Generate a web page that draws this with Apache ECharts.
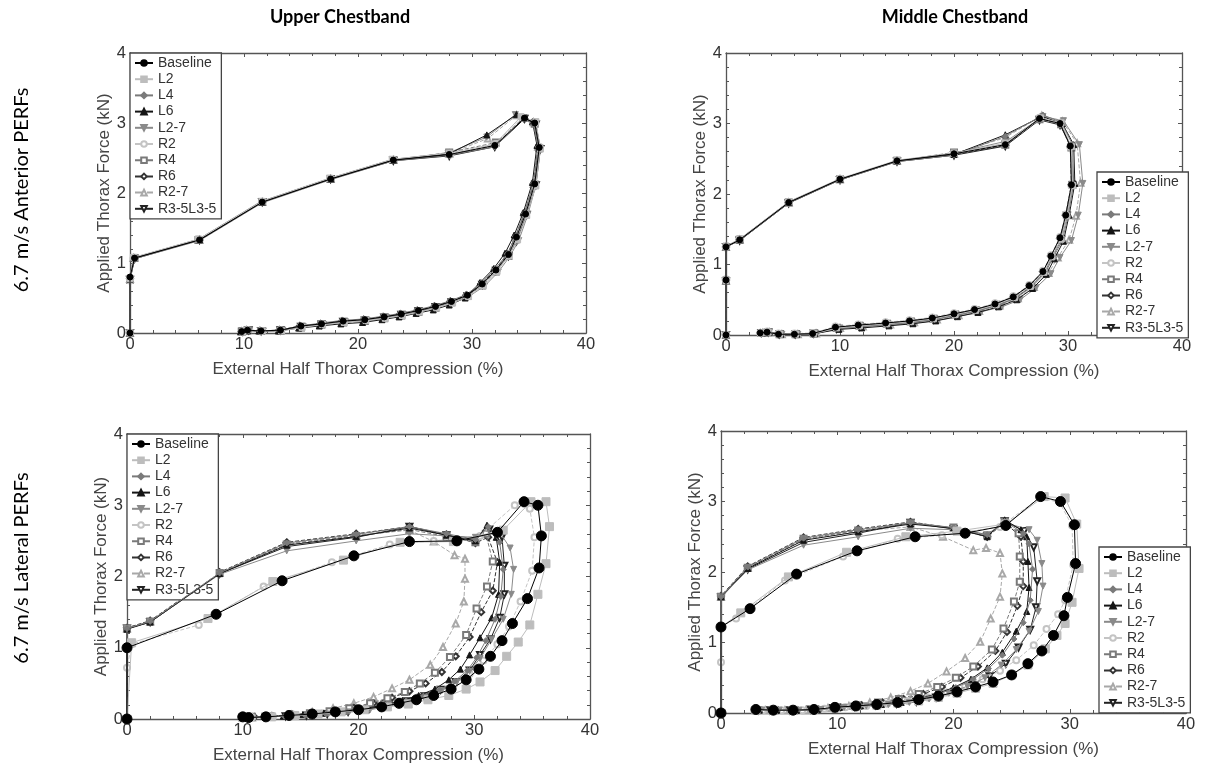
<!DOCTYPE html>
<html>
<head>
<meta charset="utf-8">
<script src="https://cdn.jsdelivr.net/npm/echarts@6/dist/echarts.min.js"></script>
<style>
html,body{margin:0;padding:0;background:#fff;}
#c{width:1207px;height:765px;}
</style>
</head>
<body>
<div id="c"></div>
<script>
// ---------- labels ----------
const COLUMN_TITLES = ["Upper Chestband", "Middle Chestband"];
const ROW_TITLES = ["6.7 m/s Anterior PERFs", "6.7 m/s Lateral PERFs"];
const X_NAME = "External Half Thorax Compression (%)";
const Y_NAME = "Applied Thorax Force (kN)";
const SERIES_NAMES = ["Baseline","L2","L4","L6","L2-7","R2","R4","R6","R2-7","R3-5L3-5"];

// ---------- Upper chestband, anterior ----------
const UA_Baseline = [[0,0],[0,0.8],[0.4,1.07],[6.1,1.33],[11.6,1.87],[17.6,2.2],[23.1,2.47],[28,2.55],[32,2.68],[34.6,3.07],[35.5,3.0],[35.9,2.65],[35.5,2.13],[34.7,1.7],[33.9,1.37],[33.2,1.12],[32.1,0.9],[30.9,0.7],[29.6,0.54],[28.2,0.45],[26.8,0.38],[25.3,0.32],[23.8,0.27],[22.3,0.23],[20.6,0.19],[18.7,0.17],[16.8,0.13],[15,0.1],[13.2,0.04],[11.5,0.03],[10.3,0.04],[9.8,0.02]];
const UA_L2 = [[0,0],[0,0.78],[0.3,1.08],[6.0,1.34],[11.6,1.88],[17.5,2.21],[23.0,2.48],[28,2.57],[32,2.7],[34.3,3.09],[35.6,3.02],[36.0,2.63],[35.6,2.1],[34.8,1.68],[34.0,1.33],[33.2,1.1],[32.2,0.88],[31.0,0.68],[29.7,0.52],[28.3,0.43],[26.9,0.36],[25.4,0.3],[23.9,0.25],[22.4,0.21],[20.7,0.18],[18.8,0.15],[16.9,0.12],[15.1,0.08],[13.3,0.03],[11.6,0.03],[10.2,0.04],[9.9,0.02]];
const UA_L4 = [[0,0],[0,0.76],[0.4,1.06],[6.1,1.32],[11.6,1.86],[17.6,2.19],[23.1,2.46],[28,2.54],[32,2.66],[34.5,3.06],[35.4,2.98],[35.8,2.66],[35.4,2.14],[34.6,1.71],[33.8,1.38],[33.1,1.13],[32.0,0.91],[30.8,0.71],[29.5,0.55],[28.1,0.46],[26.7,0.39],[25.2,0.33],[23.7,0.28],[22.2,0.24],[20.5,0.2],[18.6,0.18],[16.7,0.14],[14.9,0.1],[13.1,0.04],[11.4,0.03],[10.4,0.04],[9.8,0.02]];
const UA_L6 = [[0,0],[0,0.77],[0.3,1.07],[6.1,1.33],[11.6,1.87],[17.6,2.2],[23.1,2.47],[28,2.56],[31.3,2.83],[33.9,3.12],[35.3,3.02],[35.7,2.68],[35.3,2.15],[34.5,1.72],[33.7,1.4],[32.9,1.14],[31.9,0.92],[30.7,0.72],[29.4,0.5],[28.0,0.4],[26.6,0.33],[25.1,0.28],[23.6,0.23],[22.1,0.19],[20.4,0.15],[18.5,0.13],[16.6,0.1],[14.8,0.07],[13.0,0.03],[11.3,0.03],[10.3,0.03],[9.7,0.02]];
const UA_L2_7 = [[0,0],[0,0.78],[0.4,1.08],[6.0,1.34],[11.5,1.88],[17.5,2.21],[23.0,2.48],[27.9,2.57],[31.3,2.8],[33.8,3.12],[35.4,3.0],[35.9,2.64],[35.6,2.11],[34.9,1.69],[34.1,1.32],[33.3,1.09],[32.3,0.87],[31.1,0.67],[29.8,0.53],[28.4,0.44],[27.0,0.37],[25.5,0.31],[24.0,0.26],[22.5,0.22],[20.8,0.18],[18.9,0.16],[17.0,0.12],[15.2,0.09],[13.4,0.04],[11.7,0.03],[10.5,0.04],[10.0,0.02]];
const UA_R2 = [[0,0],[0,0.75],[0.3,1.06],[6.1,1.33],[11.6,1.87],[17.6,2.2],[23.1,2.47],[28.1,2.55],[32.1,2.7],[34.4,3.08],[35.5,3.0],[35.9,2.66],[35.5,2.12],[34.7,1.7],[33.9,1.36],[33.2,1.11],[32.1,0.89],[30.9,0.69],[29.6,0.53],[28.2,0.44],[26.8,0.37],[25.3,0.31],[23.8,0.26],[22.3,0.22],[20.6,0.18],[18.7,0.16],[16.8,0.12],[15,0.09],[13.2,0.04],[11.5,0.03],[10.3,0.04],[9.9,0.02]];
const UA_R4 = [[0,0],[0,0.76],[0.4,1.07],[6.0,1.33],[11.6,1.87],[17.6,2.2],[23.1,2.47],[28,2.58],[32.1,2.72],[34.5,3.07],[35.5,2.99],[35.9,2.64],[35.5,2.12],[34.7,1.69],[33.9,1.35],[33.2,1.1],[32.1,0.88],[30.9,0.68],[29.6,0.53],[28.2,0.44],[26.8,0.36],[25.3,0.3],[23.8,0.25],[22.3,0.21],[20.6,0.17],[18.7,0.15],[16.8,0.12],[15,0.08],[13.2,0.03],[11.5,0.03],[10.3,0.04],[9.8,0.02]];
const UA_R6 = [[0,0],[0,0.78],[0.4,1.07],[6.1,1.33],[11.6,1.87],[17.6,2.2],[23.1,2.47],[28,2.55],[32,2.67],[34.6,3.06],[35.5,3.0],[35.8,2.65],[35.4,2.13],[34.6,1.7],[33.8,1.37],[33.1,1.12],[32.0,0.9],[30.8,0.7],[29.5,0.54],[28.1,0.45],[26.7,0.38],[25.2,0.32],[23.7,0.27],[22.2,0.23],[20.5,0.19],[18.6,0.17],[16.7,0.13],[14.9,0.1],[13.1,0.04],[11.4,0.03],[10.2,0.04],[9.8,0.02]];
const UA_R2_7 = [[0,0],[0,0.77],[0.3,1.07],[6.1,1.33],[11.6,1.87],[17.6,2.2],[23.1,2.47],[28,2.56],[31.4,2.78],[33.9,3.11],[35.4,3.01],[35.8,2.66],[35.4,2.13],[34.6,1.71],[33.8,1.38],[33.1,1.12],[32.0,0.9],[30.8,0.7],[29.5,0.53],[28.1,0.44],[26.7,0.37],[25.2,0.31],[23.7,0.26],[22.2,0.22],[20.5,0.18],[18.6,0.16],[16.7,0.12],[14.9,0.09],[13.1,0.04],[11.4,0.03],[10.2,0.04],[9.8,0.02]];
const UA_R3_5L3_5 = [[0,0],[0,0.76],[0.4,1.06],[6.1,1.33],[11.6,1.87],[17.6,2.2],[23.1,2.46],[28,2.53],[32,2.66],[34.6,3.06],[35.6,2.98],[36.0,2.63],[35.6,2.11],[34.8,1.69],[33.9,1.31],[33.2,1.1],[32.1,0.89],[30.9,0.69],[29.6,0.53],[28.2,0.44],[26.8,0.37],[25.3,0.31],[23.8,0.26],[22.3,0.22],[20.6,0.18],[18.7,0.16],[16.8,0.12],[15,0.09],[13.2,0.04],[11.5,0.03],[10.4,0.04],[9.9,0.02]];

// ---------- Middle chestband, anterior ----------
const MA_Baseline = [[0,0],[0,0.78],[0,1.25],[1.2,1.35],[5.5,1.88],[10,2.21],[15,2.47],[20,2.57],[24.5,2.7],[27.5,3.07],[29.3,3.0],[30.2,2.68],[30.3,2.13],[29.8,1.7],[29.3,1.38],[28.5,1.12],[27.8,0.9],[26.6,0.7],[25.2,0.54],[23.6,0.44],[21.8,0.36],[20,0.3],[18.1,0.24],[16.1,0.2],[14,0.17],[11.6,0.14],[9.6,0.11],[7.6,0.02],[6,0.01],[4.6,0.01],[3.6,0.04],[3,0.03]];
const MA_L2 = [[0,0],[0,0.77],[0,1.25],[1.2,1.36],[5.5,1.89],[10,2.22],[15,2.48],[20,2.58],[24.5,2.72],[27.6,3.08],[29.4,3.01],[30.3,2.67],[30.4,2.12],[29.9,1.69],[29.4,1.36],[28.6,1.11],[27.9,0.89],[26.7,0.69],[25.3,0.53],[23.7,0.43],[21.9,0.35],[20.1,0.29],[18.2,0.23],[16.2,0.19],[14.1,0.16],[11.7,0.13],[9.7,0.1],[7.7,0.02],[6.1,0.01],[4.7,0.01],[3.7,0.04],[3.1,0.03]];
const MA_L4 = [[0,0],[0,0.76],[0,1.25],[1.2,1.34],[5.5,1.87],[10,2.2],[15,2.46],[20,2.55],[24.5,2.82],[27.8,3.12],[29.4,3.02],[30.4,2.7],[30.5,2.14],[30.0,1.68],[29.5,1.34],[28.7,1.1],[28.0,0.88],[26.8,0.68],[25.4,0.52],[23.8,0.42],[22.0,0.34],[20.2,0.28],[18.3,0.22],[16.3,0.18],[14.2,0.15],[11.8,0.12],[9.8,0.1],[7.8,0.02],[6.2,0.01],[4.8,0.01],[3.7,0.04],[3.1,0.03]];
const MA_L6 = [[0,0],[0,0.77],[0,1.25],[1.2,1.35],[5.5,1.88],[10,2.21],[15,2.47],[20,2.56],[24.5,2.84],[27.7,3.1],[29.5,3.0],[30.5,2.7],[30.6,2.15],[30.1,1.7],[29.6,1.33],[28.8,1.08],[28.1,0.86],[26.9,0.66],[25.5,0.5],[23.9,0.4],[22.1,0.32],[20.3,0.26],[18.4,0.2],[16.4,0.16],[14.3,0.13],[11.9,0.1],[9.9,0.08],[7.8,0.02],[6.2,0.01],[4.8,0.01],[3.8,0.04],[3.2,0.03]];
const MA_L2_7 = [[0,0],[0,0.78],[0,1.26],[1.2,1.36],[5.5,1.89],[10,2.21],[15,2.47],[20,2.58],[24.6,2.75],[27.8,3.1],[29.6,3.04],[31.0,2.7],[31.3,2.15],[30.9,1.7],[30.3,1.34],[29.3,1.1],[28.5,0.87],[27.2,0.67],[25.8,0.5],[24.2,0.4],[22.4,0.33],[20.5,0.27],[18.6,0.21],[16.6,0.17],[14.4,0.14],[12.0,0.12],[10.0,0.1],[7.9,0.02],[6.3,0.01],[4.9,0.01],[3.8,0.04],[3.2,0.03]];
const MA_R2 = [[0,0],[0,0.79],[0,1.24],[1.2,1.35],[5.5,1.88],[10,2.21],[15,2.47],[20,2.57],[24.5,2.71],[27.5,3.08],[29.3,3.01],[30.2,2.67],[30.3,2.12],[29.8,1.71],[29.3,1.39],[28.5,1.13],[27.8,0.91],[26.6,0.71],[25.2,0.55],[23.6,0.45],[21.8,0.37],[20,0.31],[18.1,0.25],[16.1,0.21],[14,0.18],[11.6,0.15],[9.6,0.12],[7.6,0.03],[6,0.02],[4.6,0.02],[3.6,0.05],[3,0.03]];
const MA_R4 = [[0,0],[0,0.77],[0,1.25],[1.2,1.35],[5.5,1.88],[10,2.21],[15,2.47],[20,2.59],[24.5,2.7],[27.5,3.06],[29.4,2.99],[30.3,2.66],[30.4,2.13],[29.9,1.7],[29.4,1.36],[28.6,1.11],[27.9,0.89],[26.7,0.69],[25.3,0.53],[23.7,0.43],[21.9,0.35],[20.1,0.29],[18.2,0.23],[16.2,0.19],[14.1,0.16],[11.7,0.13],[9.7,0.1],[7.7,0.02],[6.1,0.01],[4.7,0.01],[3.7,0.04],[3.1,0.03]];
const MA_R6 = [[0,0],[0,0.78],[0,1.25],[1.2,1.35],[5.5,1.88],[10,2.21],[15,2.47],[20,2.56],[24.5,2.69],[27.5,3.07],[29.3,3.0],[30.2,2.67],[30.3,2.13],[29.8,1.7],[29.3,1.37],[28.5,1.12],[27.8,0.9],[26.6,0.7],[25.2,0.54],[23.6,0.44],[21.8,0.36],[20,0.3],[18.1,0.24],[16.1,0.2],[14,0.17],[11.6,0.14],[9.6,0.11],[7.6,0.02],[6,0.01],[4.6,0.01],[3.6,0.04],[3,0.03]];
const MA_R2_7 = [[0,0],[0,0.77],[0,1.25],[1.2,1.35],[5.5,1.88],[10,2.21],[15,2.47],[20,2.57],[24.5,2.8],[27.7,3.11],[29.5,3.03],[30.8,2.72],[31.1,2.16],[30.7,1.69],[30.1,1.35],[29.1,1.1],[28.3,0.88],[27.0,0.68],[25.6,0.52],[24.0,0.42],[22.2,0.34],[20.4,0.28],[18.5,0.22],[16.5,0.18],[14.4,0.15],[12.0,0.12],[10.0,0.1],[7.9,0.02],[6.3,0.01],[4.9,0.01],[3.8,0.04],[3.2,0.03]];
const MA_R3_5L3_5 = [[0,0],[0,0.76],[0,1.25],[1.2,1.34],[5.5,1.87],[10,2.2],[15,2.46],[20,2.55],[24.5,2.68],[27.5,3.05],[29.3,2.98],[30.3,2.66],[30.4,2.12],[29.9,1.69],[29.4,1.35],[28.6,1.1],[27.9,0.88],[26.7,0.68],[25.3,0.52],[23.7,0.42],[21.9,0.34],[20.1,0.28],[18.2,0.22],[16.2,0.18],[14.1,0.15],[11.7,0.12],[9.7,0.09],[7.7,0.02],[6.1,0.01],[4.7,0.01],[3.7,0.04],[3.1,0.03]];

// ---------- Upper chestband, lateral ----------
const UL_Baseline = [[0,0],[0,1.0],[7.7,1.47],[13.4,1.94],[19.6,2.29],[24.4,2.49],[28.5,2.5],[32,2.62],[34.3,3.05],[35.5,3.0],[35.8,2.57],[35.6,2.12],[34.6,1.69],[33.3,1.34],[32.4,1.1],[31.4,0.88],[30.4,0.7],[29.3,0.55],[28,0.42],[26.5,0.33],[25,0.27],[23.5,0.22],[22,0.17],[20,0.13],[18,0.1],[16,0.07],[14,0.05],[12,0.03],[10.5,0.02],[10,0.03]];
const UL_L2 = [[0,0],[0.4,1.07],[7.0,1.41],[12.6,1.93],[18.7,2.23],[23.6,2.48],[28.2,2.49],[32.5,2.65],[34.9,3.05],[36.2,3.05],[36.5,2.7],[36.2,2.18],[35.5,1.75],[34.8,1.32],[33.8,1.08],[32.8,0.88],[31.8,0.68],[30.5,0.52],[29.3,0.42],[27.8,0.33],[26,0.27],[24.3,0.21],[22.5,0.17],[20.5,0.13],[18.5,0.1],[16.5,0.07],[14.5,0.05],[12.5,0.03],[10.5,0.02],[10,0.02]];
const UL_L4 = [[0,0],[0,1.27],[2,1.37],[8,2.05],[13.8,2.47],[19.8,2.59],[24.4,2.7],[27.6,2.6],[30.1,2.52],[31.2,2.7],[32.2,2.48],[32.5,2.1],[32.3,1.72],[31.8,1.4],[31,1.1],[30.2,0.86],[29.4,0.68],[28.3,0.53],[27,0.41],[25.6,0.32],[24.1,0.25],[22.5,0.19],[20.8,0.14],[19,0.1],[17.2,0.07],[15.4,0.05],[13.6,0.04],[12,0.03],[10.5,0.02]];
const UL_L6 = [[0,0],[0,1.26],[2,1.36],[8,2.04],[13.8,2.44],[19.8,2.56],[24.4,2.68],[27.6,2.58],[30.1,2.5],[31.1,2.72],[31.9,2.55],[32.2,2.2],[32.1,1.75],[31.5,1.42],[30.5,1.14],[29.6,0.9],[28.8,0.7],[27.8,0.55],[26.6,0.42],[25.2,0.33],[23.8,0.26],[22.3,0.2],[20.6,0.15],[18.8,0.11],[17,0.08],[15.2,0.06],[13.5,0.04],[12,0.03],[10.5,0.02]];
const UL_L2_7 = [[0,0],[0,1.27],[2,1.36],[8,2.03],[13.8,2.36],[19.8,2.5],[24.4,2.6],[27.6,2.57],[30.1,2.55],[32.2,2.62],[33.1,2.4],[33.4,2.1],[33.2,1.75],[32.5,1.4],[31.5,1.12],[30.5,0.85],[29.6,0.67],[28.5,0.52],[27.2,0.4],[25.8,0.31],[24.3,0.24],[22.7,0.18],[21,0.13],[19.2,0.1],[17.4,0.07],[15.6,0.05],[13.8,0.04],[12.1,0.03],[10.6,0.02]];
const UL_R2 = [[0,0],[0,0.72],[0.4,1.05],[6.2,1.32],[11.8,1.86],[17.7,2.2],[22.7,2.45],[26.5,2.5],[30.5,2.57],[33.5,3.0],[34.8,2.95],[35.2,2.55],[35,2.08],[34,1.65],[33,1.3],[32,1.05],[30.8,0.82],[29.6,0.63],[28.3,0.5],[26.8,0.4],[25.2,0.31],[23.6,0.25],[22,0.19],[20.2,0.14],[18.4,0.1],[16.5,0.07],[14.6,0.05],[12.6,0.03],[10.8,0.02]];
const UL_R4 = [[0,0],[0,1.27],[2,1.37],[8,2.05],[13.8,2.45],[19.8,2.57],[24.4,2.66],[27.6,2.56],[30.1,2.48],[31,2.6],[31.6,2.21],[31.1,1.86],[30.2,1.55],[29.3,1.18],[27.9,0.87],[26.6,0.65],[25.3,0.5],[24,0.38],[22.5,0.29],[21,0.22],[19.2,0.15],[17.5,0.11],[15.8,0.08],[14.1,0.06],[12.4,0.04],[10.8,0.03],[10,0.02]];
const UL_R6 = [[0,0],[0,1.28],[2,1.38],[8,2.06],[13.8,2.48],[19.8,2.6],[24.4,2.7],[27.6,2.59],[30.1,2.47],[31.2,2.55],[32,2.2],[31.6,1.8],[30.6,1.5],[29.6,1.15],[28.4,0.88],[27.2,0.66],[25.8,0.5],[24.4,0.39],[22.9,0.3],[21.3,0.22],[19.6,0.16],[17.8,0.11],[16,0.08],[14.3,0.06],[12.6,0.04],[11,0.03],[10.1,0.02]];
const UL_R2_7 = [[0,0],[0,1.27],[2,1.37],[8,2.05],[13.8,2.46],[19.8,2.58],[24.4,2.65],[26.5,2.49],[28.3,2.3],[29.2,2.25],[29.2,1.97],[29.1,1.65],[28.4,1.34],[27.3,1.01],[26.2,0.76],[24.4,0.55],[22.9,0.43],[21.3,0.31],[19.6,0.22],[17.8,0.15],[16,0.1],[14.2,0.06],[12.5,0.04],[10.8,0.02]];
const UL_R3_5L3_5 = [[0,0],[0,1.27],[2,1.36],[8,2.04],[13.8,2.42],[19.8,2.55],[24.4,2.7],[27.6,2.58],[30.1,2.5],[31.3,2.66],[32.4,2.55],[32.6,2.15],[32.6,1.75],[32.2,1.42],[31.4,1.12],[30.5,0.9],[29.6,0.68],[28.4,0.52],[27.1,0.41],[25.7,0.32],[24.2,0.25],[22.6,0.19],[20.9,0.14],[19.1,0.1],[17.3,0.07],[15.5,0.05],[13.7,0.04],[12,0.03],[10.5,0.02]];

// ---------- Middle chestband, lateral ----------
const ML_Baseline = [[0,0],[0,1.22],[2.5,1.48],[6.5,1.97],[11.7,2.3],[16.7,2.5],[21,2.55],[24.5,2.66],[27.5,3.07],[29.2,3.0],[30.4,2.67],[30.5,2.12],[29.8,1.64],[29.5,1.38],[28.6,1.1],[27.6,0.88],[26.4,0.7],[25,0.54],[23.4,0.44],[21.9,0.37],[20.3,0.3],[18.7,0.24],[17,0.19],[15.2,0.15],[13.4,0.12],[11.6,0.1],[9.8,0.08],[8,0.05],[6.2,0.04],[4.5,0.04],[3,0.05]];
const ML_L2 = [[0,0],[0,1.22],[1.7,1.42],[5.8,1.93],[10.8,2.28],[15.9,2.5],[20.3,2.58],[24.5,2.68],[27.8,3.07],[29.6,3.05],[30.6,2.68],[30.8,2.05],[30.2,1.57],[29.6,1.27],[28.9,1.1],[27.9,0.91],[26.4,0.68],[25,0.54],[23.4,0.42],[21.9,0.35],[20.3,0.28],[18.7,0.22],[17,0.17],[15.2,0.14],[13.4,0.11],[11.6,0.09],[9.8,0.07],[8,0.05],[6.2,0.04],[4.5,0.04],[3,0.04]];
const ML_L4 = [[0,0],[0,1.65],[2.3,2.07],[7.1,2.48],[11.8,2.6],[16.3,2.7],[20,2.63],[22.9,2.53],[24.4,2.72],[26,2.55],[26.5,2.4],[26.8,2.04],[26.6,1.6],[26,1.28],[25.2,1.05],[24.2,0.82],[23,0.63],[21.7,0.48],[20.2,0.36],[18.7,0.27],[17.1,0.2],[15.5,0.15],[13.8,0.12],[12,0.1],[10.2,0.08],[8.3,0.05],[6.5,0.04],[4.8,0.04],[3.3,0.04]];
const ML_L6 = [[0,0],[0,1.65],[2.3,2.05],[7.1,2.45],[11.8,2.57],[16.3,2.68],[20,2.62],[22.9,2.5],[24.4,2.74],[25.8,2.6],[26.3,2.5],[26.4,2.15],[26.5,1.78],[26.3,1.44],[25.4,1.16],[24.2,0.86],[22.9,0.64],[21.5,0.48],[20,0.36],[18.5,0.27],[17,0.2],[15.5,0.15],[13.8,0.12],[12,0.1],[10.2,0.08],[8.3,0.05],[6.5,0.04],[4.8,0.04],[3.3,0.04]];
const ML_L2_7 = [[0,0],[0,1.64],[2.3,2.03],[7.1,2.38],[11.8,2.5],[16.3,2.62],[20,2.6],[22.9,2.52],[24.4,2.7],[26.5,2.6],[27.2,2.45],[27.6,2.12],[27.7,1.8],[27.3,1.44],[26.5,1.16],[25.4,0.9],[24.1,0.68],[22.7,0.5],[21.2,0.38],[19.6,0.28],[17.9,0.2],[16.2,0.15],[14.4,0.12],[12.5,0.1],[10.6,0.08],[8.6,0.05],[6.7,0.04],[5,0.04],[3.5,0.04]];
const ML_R2 = [[0,0],[0,0.72],[0,1.22],[1.3,1.34],[5.5,1.88],[10.5,2.22],[15.2,2.47],[19,2.52],[24,2.64],[27.4,3.05],[29.1,2.99],[30.2,2.66],[30.3,2.1],[29.6,1.6],[29,1.4],[28,1.19],[26.9,0.96],[25.4,0.75],[24,0.6],[22.5,0.48],[21,0.38],[19.4,0.29],[17.8,0.22],[16.1,0.17],[14.3,0.13],[12.5,0.1],[10.7,0.08],[8.9,0.06],[7,0.04],[5.2,0.04],[3.6,0.04]];
const ML_R4 = [[0,0],[0,1.65],[2.3,2.06],[7.1,2.47],[11.8,2.59],[16.3,2.69],[20,2.63],[22.9,2.52],[24.4,2.71],[25.6,2.55],[25.7,2.22],[25.7,1.86],[25.2,1.58],[24.3,1.2],[23.3,0.9],[21.7,0.66],[20.2,0.5],[18.6,0.37],[17,0.27],[15.3,0.2],[13.5,0.15],[11.7,0.11],[9.9,0.08],[8,0.05],[6.2,0.04],[4.5,0.04],[3.1,0.04]];
const ML_R6 = [[0,0],[0,1.66],[2.3,2.08],[7.1,2.49],[11.8,2.61],[16.3,2.71],[20,2.62],[22.9,2.5],[24.4,2.7],[25.8,2.5],[26,2.15],[26,1.8],[25.5,1.52],[24.6,1.15],[23.6,0.88],[22.1,0.66],[20.6,0.5],[19,0.37],[17.4,0.27],[15.7,0.2],[13.9,0.15],[12.1,0.11],[10.3,0.08],[8.4,0.05],[6.6,0.04],[4.9,0.04],[3.3,0.04]];
const ML_R2_7 = [[0,0],[0,1.65],[2.3,2.06],[7.1,2.46],[11.8,2.58],[16.3,2.64],[19.1,2.5],[21.7,2.31],[22.8,2.34],[24,2.27],[24.2,1.98],[24,1.65],[23.2,1.34],[22.3,1.01],[21,0.78],[19.4,0.59],[17.8,0.42],[16.3,0.31],[14.6,0.22],[12.8,0.15],[11,0.1],[9.2,0.07],[7.3,0.04],[5.5,0.04],[3.8,0.04]];
const ML_R3_5L3_5 = [[0,0],[0,1.64],[2.3,2.04],[7.1,2.42],[11.8,2.55],[16.3,2.7],[20,2.61],[22.9,2.51],[24.4,2.72],[26.1,2.58],[26.9,2.35],[27.2,1.87],[27.1,1.5],[26.6,1.18],[25.6,0.93],[24.5,0.7],[23.1,0.52],[21.6,0.4],[20.1,0.3],[18.5,0.22],[16.8,0.16],[15.1,0.13],[13.3,0.11],[11.5,0.09],[9.6,0.07],[7.7,0.05],[5.9,0.04],[4.2,0.04],[3.2,0.04]];

const PANEL_DATA = [
  [UA_Baseline,UA_L2,UA_L4,UA_L6,UA_L2_7,UA_R2,UA_R4,UA_R6,UA_R2_7,UA_R3_5L3_5],
  [MA_Baseline,MA_L2,MA_L4,MA_L6,MA_L2_7,MA_R2,MA_R4,MA_R6,MA_R2_7,MA_R3_5L3_5],
  [UL_Baseline,UL_L2,UL_L4,UL_L6,UL_L2_7,UL_R2,UL_R4,UL_R6,UL_R2_7,UL_R3_5L3_5],
  [ML_Baseline,ML_L2,ML_L4,ML_L6,ML_L2_7,ML_R2,ML_R4,ML_R6,ML_R2_7,ML_R3_5L3_5]
];

// ---------- styles ----------
const STYLE = {
  "Baseline":  {color:"#000000", symbol:"circle",        rot:0,   dash:"solid",  size:6},
  "L2":        {color:"#bdbdbd", symbol:"rect",          rot:0,   dash:"solid",  size:6},
  "L4":        {color:"#7a7a7a", symbol:"diamond",       rot:0,   dash:"solid",  size:6},
  "L6":        {color:"#151515", symbol:"triangle",      rot:0,   dash:"solid",  size:6},
  "L2-7":      {color:"#8a8a8a", symbol:"triangle",      rot:180, dash:"solid",  size:6},
  "R2":        {color:"#c4c4c4", symbol:"emptyCircle",   rot:0,   dash:"dashed", size:6},
  "R4":        {color:"#7a7a7a", symbol:"emptyRect",     rot:0,   dash:"dashed", size:6},
  "R6":        {color:"#333333", symbol:"emptyDiamond",  rot:0,   dash:"dashed", size:6},
  "R2-7":      {color:"#a8a8a8", symbol:"emptyTriangle", rot:0,   dash:"dashed", size:6},
  "R3-5L3-5":  {color:"#222222", symbol:"emptyTriangle", rot:180, dash:"solid",  size:6}
};

const GRIDS = [
  {left:130, top:53,  width:456, height:280},
  {left:726, top:53,  width:456, height:282},
  {left:127, top:434, width:463, height:285},
  {left:721, top:431, width:465, height:282}
];
const LEGEND_POS = [
  {left:130, top:53},
  {left:1097, top:172},
  {left:127, top:434},
  {left:1099, top:547}
];

const FONT = "Liberation Sans, Arial, sans-serif";
const xAxes = [], yAxes = [], series = [], legends = [];
GRIDS.forEach((g, gi) => {
  const common = {
    type:"value", gridIndex:gi, min:0, interval:10, max:40,
    axisLine:{show:true, onZero:false, lineStyle:{color:"#555", width:1.3}},
    axisTick:{show:true, inside:true, length:4, lineStyle:{color:"#555"}},
    minorTick:{show:true, splitNumber:5, length:3, lineStyle:{color:"#555"}},
    splitLine:{show:false}
  };
  xAxes.push(Object.assign({}, common, {
    position:"bottom",
    name:X_NAME, nameLocation:"middle", nameGap:28,
    nameTextStyle:{fontFamily:FONT, fontSize:17, color:"#444"},
    axisLabel:{fontFamily:FONT, fontSize:16.5, color:"#333", margin:3}
  }));
  xAxes.push(Object.assign({}, common, {position:"top", axisLabel:{show:false}}));
  const ycommon = Object.assign({}, common, {min:0, max:4, interval:1});
  yAxes.push(Object.assign({}, ycommon, {
    position:"left",
    name:Y_NAME, nameLocation:"middle", nameGap:16,
    nameTextStyle:{fontFamily:FONT, fontSize:17, color:"#444"},
    axisLabel:{fontFamily:FONT, fontSize:16.5, color:"#333", margin:4}
  }));
  yAxes.push(Object.assign({}, ycommon, {position:"right", axisLabel:{show:false}}));

  const lateral = gi >= 2;
  SERIES_NAMES.forEach((nm, si) => {
    const st = STYLE[nm];
    let size = st.size;
    if (lateral && nm === "Baseline") size = 10;
    if (lateral && nm === "L2") size = 8;
    series.push({
      type:"line", name:nm,
      xAxisIndex:gi*2, yAxisIndex:gi*2,
      data:PANEL_DATA[gi][si],
      symbol:st.symbol, symbolRotate:st.rot, symbolSize:size,
      showAllSymbol:true,
      lineStyle:{color:st.color, width:1, type:st.dash},
      itemStyle:{color:st.color, borderColor:st.color, borderWidth:1},
      z: 10 - si + (nm === "Baseline" ? 5 : 0),
      emphasis:{disabled:true}
    });
  });

  legends.push({
    left:LEGEND_POS[gi].left, top:LEGEND_POS[gi].top,
    orient:"vertical", data:SERIES_NAMES.slice(),
    backgroundColor:"#fff", borderColor:"#444", borderWidth:1.3,
    padding:[3,5,3,4], itemGap:2.2, itemWidth:18, itemHeight:7,
    textStyle:{fontFamily:FONT, fontSize:14, color:"#333", lineHeight:14},
    selectedMode:false
  });
});

const chart = echarts.init(document.getElementById("c"), null, {renderer:"canvas"});
chart.setOption({
  backgroundColor:"#fff",
  animation:false,
  grid:GRIDS.map(g => Object.assign({containLabel:false}, g)),
  xAxis:xAxes, yAxis:yAxes,
  legend:legends,
  series:series,
  graphic:[
    {type:"text", x:340, y:17, style:{text:COLUMN_TITLES[0], font:"bold 18px Lato, 'Open Sans', sans-serif", fill:"#000", textAlign:"center", textVerticalAlign:"middle"}, z:100},
    {type:"text", x:955, y:17, style:{text:COLUMN_TITLES[1], font:"bold 18px Lato, 'Open Sans', sans-serif", fill:"#000", textAlign:"center", textVerticalAlign:"middle"}, z:100},
    {type:"text", x:22, y:190, rotation:Math.PI/2, style:{text:ROW_TITLES[0], font:"20px Lato, 'Open Sans', sans-serif", fill:"#000", textAlign:"center", textVerticalAlign:"middle"}, z:100},
    {type:"text", x:22, y:568, rotation:Math.PI/2, style:{text:ROW_TITLES[1], font:"20px Lato, 'Open Sans', sans-serif", fill:"#000", textAlign:"center", textVerticalAlign:"middle"}, z:100}
  ]
});
</script>
</body>
</html>
